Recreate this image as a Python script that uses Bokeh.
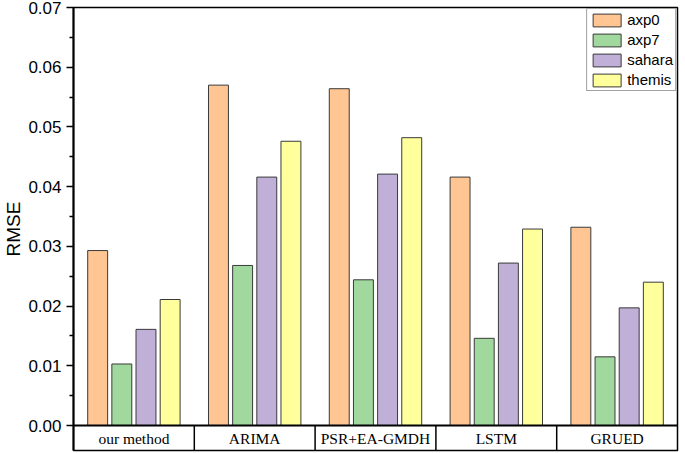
from bokeh.plotting import figure
from bokeh.models import Range1d, FixedTicker, ColumnDataSource, Legend, LegendItem, CustomJSTickFormatter
from bokeh.core.properties import value
from bokeh.embed import file_html
from bokeh.resources import INLINE

methods = ["our method", "ARIMA", "PSR+EA-GMDH", "LSTM", "GRUED"]
series_names = ["axp0", "axp7", "sahara", "themis"]
axp0 = [0.0293, 0.0570, 0.0564, 0.0416, 0.0332]
axp7 = [0.0103, 0.0268, 0.0244, 0.0146, 0.0115]
sahara = [0.0161, 0.0416, 0.0421, 0.0272, 0.0197]
themis = [0.0211, 0.0476, 0.0482, 0.0329, 0.0240]
y_ticks = [0.00, 0.01, 0.02, 0.03, 0.04, 0.05, 0.06, 0.07]

series_values = [axp0, axp7, sahara, themis]
colors = ["#FFC592", "#A0D89D", "#C0B0D8", "#FFFF9C"]
offsets = [-0.3, -0.1, 0.1, 0.3]

W, H = 685, 453
top_b, bot_b, left_b, right_b = 7, 3, 73, 8
frame_h = H - top_b - bot_b
band_px = 25
ymax = 0.07
band = band_px * ymax / (frame_h - band_px)

p = figure(width=W, height=H, output_backend="svg", toolbar_location=None,
           x_range=Range1d(0, len(methods)), y_range=Range1d(-band, ymax),
           min_border_top=top_b, min_border_bottom=bot_b,
           min_border_left=left_b, min_border_right=right_b,
           x_axis_location=None)
p.xgrid.visible = False
p.ygrid.visible = False
p.outline_line_color = "black"
p.outline_line_width = 1.5
p.outline_line_alpha = 1.0

yax = p.yaxis[0]
yax.ticker = FixedTicker(ticks=y_ticks, minor_ticks=[v + 0.005 for v in y_ticks[:-1]])
yax.formatter = CustomJSTickFormatter(code="return tick.toFixed(2);")
yax.axis_line_width = 2
yax.axis_line_color = "black"
yax.major_tick_in = 0
yax.major_tick_out = 7
yax.minor_tick_in = 0
yax.minor_tick_out = 4
yax.major_tick_line_width = 1.5
yax.minor_tick_line_width = 1.5
yax.major_label_text_font = "Liberation Sans"
yax.major_label_text_font_size = "17px"
yax.major_label_text_color = "black"
yax.major_label_standoff = 5
yax.axis_label = "RMSE"
yax.axis_label_text_font = "Liberation Sans"
yax.axis_label_text_font_size = "19px"
yax.axis_label_text_font_style = "normal"
yax.axis_label_text_color = "black"
yax.axis_label_standoff = 1

items = []
for k, name in enumerate(series_names):
    xs = [i + 0.5 + offsets[k] for i in range(len(methods))]
    src = ColumnDataSource(dict(x=xs, top=series_values[k]))
    r = p.vbar(x="x", top="top", bottom=0, width=0.165, source=src,
               fill_color=colors[k], line_color="#3a3a3a", line_width=1)
    items.append(LegendItem(label=name, renderers=[r]))

# category band
p.line(x=[0, len(methods)], y=[0, 0], line_color="black", line_width=2)
for i in range(1, len(methods)):
    p.segment(x0=i, y0=-band, x1=i, y1=0, line_color="black", line_width=1.5)
p.text(x=[i + 0.5 for i in range(len(methods))], y=[-band / 2] * len(methods),
       text=methods, text_align="center", text_baseline="middle",
       text_font=value("Liberation Serif"), text_font_size="15.5px", text_color="black")

legend = Legend(items=items, location="top_right")
legend.label_text_font = "Liberation Sans"
legend.label_text_font_size = "15px"
legend.label_text_color = "black"
legend.glyph_width = 35
legend.glyph_height = 16
legend.label_height = 16
legend.label_standoff = 3
legend.spacing = 3
legend.padding = 2
legend.margin = 1
legend.border_line_color = "#444444"
legend.border_line_width = 1
legend.background_fill_alpha = 1.0
p.add_layout(legend)

open("out.html", "w").write(file_html(p, INLINE))
